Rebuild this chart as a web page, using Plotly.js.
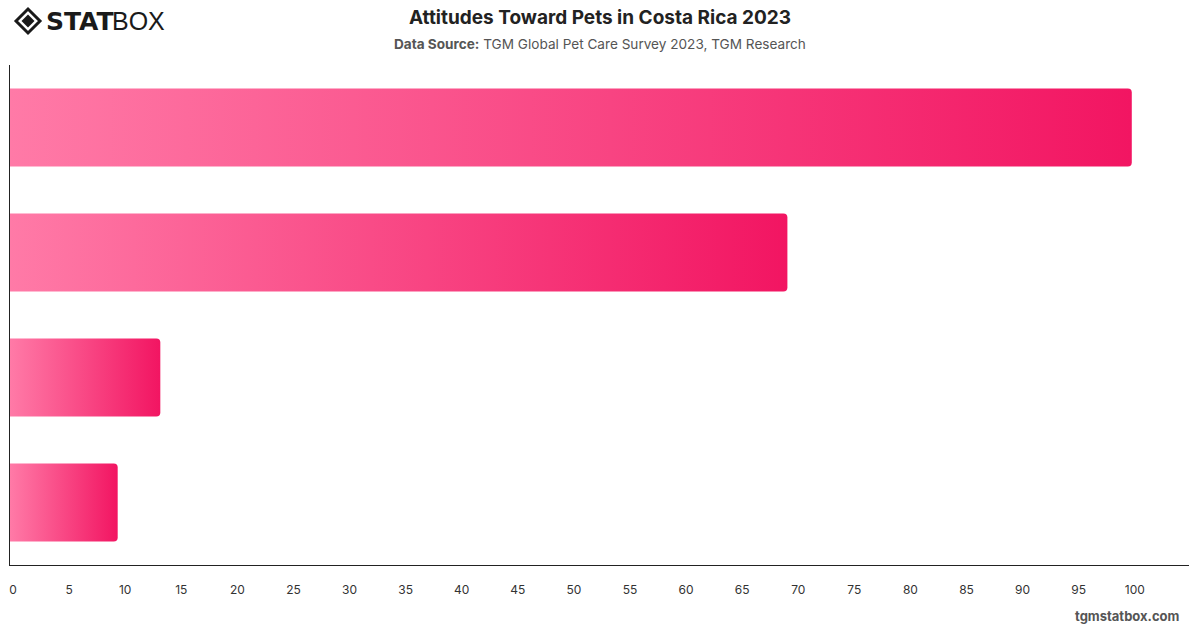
<!DOCTYPE html>
<html>
<head>
<meta charset="utf-8">
<script src="https://cdn.plot.ly/plotly-3.0.1.min.js"></script>
<style>
  html, body { margin: 0; padding: 0; background: #fff; }
  #chart { width: 1200px; height: 628px; }
</style>
</head>
<body>
<div id="chart"></div>
<script>
// Data (category labels are hidden in the reference chart)
const categories = ["Attitude A", "Attitude B", "Attitude C", "Attitude D"];
const values = [100, 69.3, 13.4, 9.6];
const xTickValues = [0, 5, 10, 15, 20, 25, 30, 35, 40, 45, 50, 55, 60, 65, 70, 75, 80, 85, 90, 95, 100];

const FONT = "Inter, 'Liberation Sans', Arial, sans-serif";

const trace = {
  type: "bar",
  orientation: "h",
  y: categories,
  x: values,
  marker: { color: "#f7437f", cornerradius: 4, line: { width: 0 } },
  hoverinfo: "none"
};

const layout = {
  width: 1200,
  height: 628,
  margin: { l: 10, r: 11, t: 65, b: 63 },
  paper_bgcolor: "#ffffff",
  plot_bgcolor: "#ffffff",
  bargap: 0.376,
  showlegend: false,
  font: { family: FONT, color: "#333" },
  xaxis: {
    range: [0, 105.1],
    tickvals: xTickValues,
    ticktext: xTickValues.map(String),
    showgrid: false,
    zeroline: false,
    showline: true,
    linecolor: "#222",
    linewidth: 1,
    ticks: "outside",
    ticklen: 14,
    tickcolor: "rgba(0,0,0,0)",
    ticklabelshift: 3,
    tickfont: { family: FONT, size: 12, color: "#333" },
    fixedrange: true
  },
  yaxis: {
    autorange: "reversed",
    showticklabels: false,
    showgrid: false,
    zeroline: false,
    showline: true,
    linecolor: "#222",
    linewidth: 1,
    ticks: "",
    fixedrange: true
  },
  title: {
    text: "<b>Attitudes Toward Pets in Costa Rica 2023</b>",
    x: 0.5, xanchor: "center",
    y: 0.972, yanchor: "middle",
    font: { family: FONT, size: 19, color: "#222" }
  },
  annotations: [
    {
      text: "<b>Data Source:</b> TGM Global Pet Care Survey 2023, TGM Research",
      xref: "paper", yref: "paper", x: 0.5, xanchor: "center",
      y: 1, yanchor: "middle", yshift: 21,
      showarrow: false,
      font: { family: FONT, size: 13.6, color: "#555" }
    },
    {
      text: "<b>STAT</b>",
      xref: "paper", yref: "paper",
      x: 0, xanchor: "left", y: 1, yanchor: "middle",
      xshift: 34, yshift: 44,
      showarrow: false,
      font: { family: "'DejaVu Sans', " + FONT, size: 25, color: "#1a1a1a" }
    },
    {
      text: "BOX",
      xref: "paper", yref: "paper",
      x: 0, xanchor: "left", y: 1, yanchor: "middle",
      xshift: 100, yshift: 44,
      showarrow: false,
      font: { family: "'Liberation Sans', Arial, sans-serif", size: 25, color: "#1a1a1a" }
    },
    {
      text: "<b>tgmstatbox.com</b>",
      xref: "paper", yref: "paper",
      x: 1, xanchor: "right", y: 0, yanchor: "middle",
      xshift: -7, yshift: -51,
      showarrow: false,
      font: { family: FONT, size: 13, color: "#555" }
    }
  ]
};

const config = { staticPlot: true, displayModeBar: false, responsive: false };

Plotly.newPlot("chart", [trace], layout, config).then(function (gd) {
  const svgNS = "http://www.w3.org/2000/svg";
  const mainSvg = gd.querySelector(".main-svg");
  let defs = mainSvg.querySelector("defs");
  if (!defs) { defs = document.createElementNS(svgNS, "defs"); mainSvg.insertBefore(defs, mainSvg.firstChild); }
  const grad = document.createElementNS(svgNS, "linearGradient");
  grad.setAttribute("id", "barGrad");
  grad.setAttribute("x1", "0"); grad.setAttribute("y1", "0");
  grad.setAttribute("x2", "1"); grad.setAttribute("y2", "0");
  const s1 = document.createElementNS(svgNS, "stop");
  s1.setAttribute("offset", "0"); s1.setAttribute("stop-color", "#ff7aa7");
  const s2 = document.createElementNS(svgNS, "stop");
  s2.setAttribute("offset", "1"); s2.setAttribute("stop-color", "#f21562");
  grad.appendChild(s1); grad.appendChild(s2);
  defs.appendChild(grad);
  gd.querySelectorAll(".trace.bars .point path").forEach(function (p) {
    p.style.fill = "url(#barGrad)";
    p.style.fillOpacity = "1";
  });

  // Logo icon drawn into the top-level svg layer
  const svgs = gd.querySelectorAll(".main-svg");
  const top = svgs[svgs.length - 1];
  const g = document.createElementNS(svgNS, "g");
  const cx = 28, cy = 21;
  const outer = document.createElementNS(svgNS, "path");
  outer.setAttribute("d", `M ${cx-12} ${cy} L ${cx} ${cy-12} L ${cx+12} ${cy} L ${cx} ${cy+12} Z`);
  outer.setAttribute("fill", "none");
  outer.setAttribute("stroke", "#1a1a1a");
  outer.setAttribute("stroke-width", "3");
  const inner = document.createElementNS(svgNS, "path");
  inner.setAttribute("d", `M ${cx-6.5} ${cy} L ${cx} ${cy-6.5} L ${cx+6.5} ${cy} L ${cx} ${cy+6.5} Z`);
  inner.setAttribute("fill", "#1a1a1a");
  g.appendChild(outer); g.appendChild(inner);
  top.appendChild(g);
});
</script>
</body>
</html>
